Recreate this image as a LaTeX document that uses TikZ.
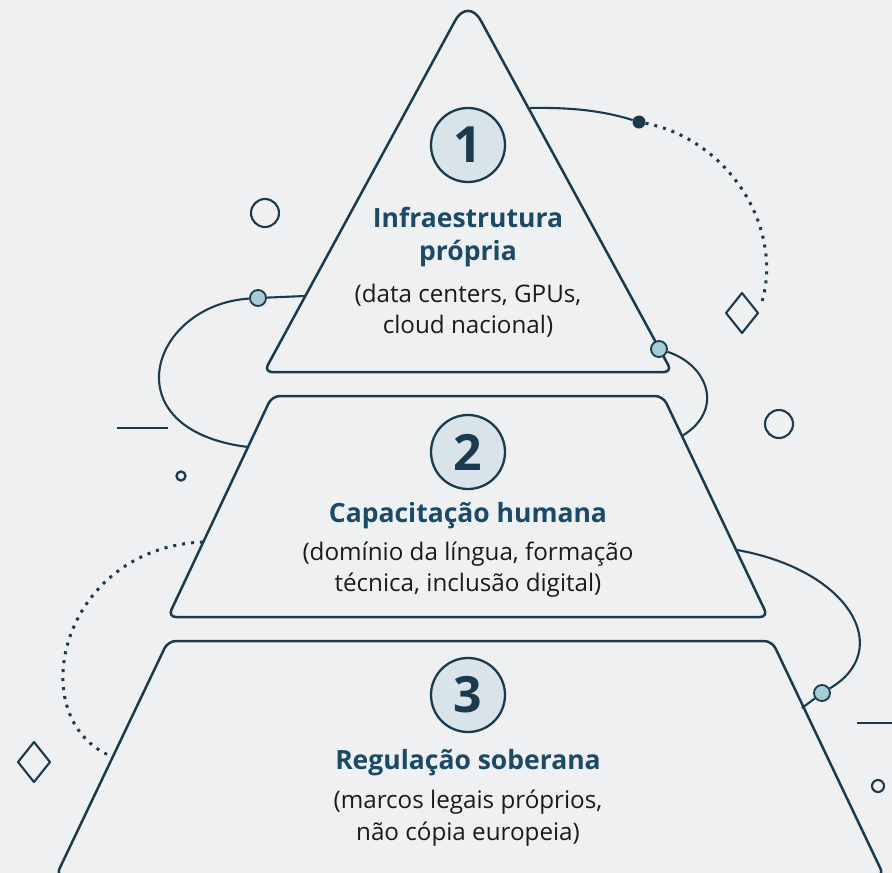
\documentclass[tikz,border=0pt]{standalone}
\usepackage{fontspec}
\setmainfont{Open Sans}
\definecolor{navy}{HTML}{1C3A4E}
\definecolor{titleblue}{HTML}{1B4A66}
\definecolor{paper}{HTML}{EFF0F1}
\definecolor{badgefill}{HTML}{D9E4EA}
\definecolor{jointfill}{HTML}{A9CBD8}
\definecolor{ink}{HTML}{1A1A1A}
\tikzset{
  layer/.style={draw=navy, line width=2.5pt, rounded corners=8pt, line join=round},
  badge/.style={circle, draw=navy, line width=2.3pt, fill=badgefill, minimum size=74pt, inner sep=0pt,
    text=navy, font=\bfseries\fontsize{50}{50}\selectfont},
  title/.style={text=titleblue, font=\bfseries\fontsize{26.5}{26.5}\selectfont, anchor=base},
  subtext/.style={text=ink, font=\fontsize{24.2}{24.2}\selectfont, anchor=base},
  link/.style={draw=navy, line width=2.1pt},
  dotlink/.style={draw=navy, line width=3pt, dash pattern=on 3pt off 6pt},
  joint/.style={circle, draw=navy, line width=1.8pt, fill=jointfill, minimum size=16pt, inner sep=0pt},
  ring/.style={circle, draw=navy, line width=2.1pt, inner sep=0pt},
}
\begin{document}
\begin{tikzpicture}[x=1pt,y=-1pt]
  \useasboundingbox[fill=paper] (0,0) rectangle (892,873);
  %draw layers
  \begin{scope}
    \clip (0,0) rectangle (892,873);
    \draw[layer] (468,372) -- (264,372) [rounded corners=27pt] -- (468,-3) [rounded corners=8pt] -- (672,372) -- cycle;
    \draw[layer] (272,396) -- (663,396) -- (768,617) -- (168,617) -- cycle;
    \draw[layer] (168,641) -- (772,641) -- (884,876) -- (56,876) -- cycle;
  \end{scope}

  %top tier
  \node[badge] (n1) at (468,145) {1};
  \node[title] (t1a) at (468,227) {Infraestrutura};
  \node[title] (t1b) at (468,260) {própria};
  \node[subtext] (s1a) at (468,302) {(data centers, GPUs,};
  \node[subtext] (s1b) at (468,333) {cloud nacional)};

  %middle tier
  \node[badge] (n2) at (468,452) {2};
  \node[title] (t2) at (468,522) {Capacitação humana};
  \node[subtext] (s2a) at (468,560) {(domínio da língua, formação};
  \node[subtext] (s2b) at (468,591) {técnica, inclusão digital)};

  %bottom tier
  \node[badge] (n3) at (468,695) {3};
  \node[title] (t3) at (468,769) {Regulação soberana};
  \node[subtext] (s3a) at (468,808) {(marcos legais próprios,};
  \node[subtext] (s3b) at (468,840) {não cópia europeia)};

  %connectors on the right
  \coordinate (e1) at (530,108);
  \node[circle, fill=navy, minimum size=13pt, inner sep=0pt] (d1) at (639,122) {};
  \draw[link] (e1) .. controls (580,107) and (610,113) .. (d1);
  \coordinate (q1) at (761,305);
  \draw[dotlink] (d1) .. controls (730,140) and (785,230) .. (q1);
  \node[joint] (j1) at (659,349) {};
  \coordinate (e2) at (682,436);
  \draw[link] (j1) .. controls (708,365) and (725,410) .. (e2);
  \coordinate (e7) at (737,550);
  \node[joint] (j3) at (822,693) {};
  \draw[link] (e7) .. controls (850,570) and (895,650) .. (j3);
  \coordinate (e8) at (802,708);
  \draw[link] (j3) -- (e8);

  %connectors on the left
  \node[joint] (j2) at (258,298) {};
  \coordinate (e3) at (305,296);
  \draw[link] (j2) -- (e3);
  \coordinate (e4) at (248,447);
  \draw[link] (j2) .. controls (150,305) and (110,430) .. (e4);
  \coordinate (e5) at (203,542);
  \coordinate (e6) at (113,757);
  \draw[dotlink] (e5) .. controls (60,548) and (20,720) .. (e6);

  %small decorations
  \node[ring, minimum size=28pt] (r1) at (265,213) {};
  \node[ring, minimum size=28pt] (r2) at (779,424) {};
  \node[ring, minimum size=9pt, line width=2.3pt] (r3) at (181,476) {};
  \node[ring, minimum size=12pt] (r4) at (878,786) {};
  \draw[link] (117,428) -- (168,428);
  \draw[link] (857,723) -- (892,723);
  \draw[link, line join=round] (742,293) -- (758,313) -- (742,333) -- (726,313) -- cycle;
  \draw[link, line join=round] (34,742) -- (50,762) -- (34,782) -- (18,762) -- cycle;
\end{tikzpicture}
\end{document}
